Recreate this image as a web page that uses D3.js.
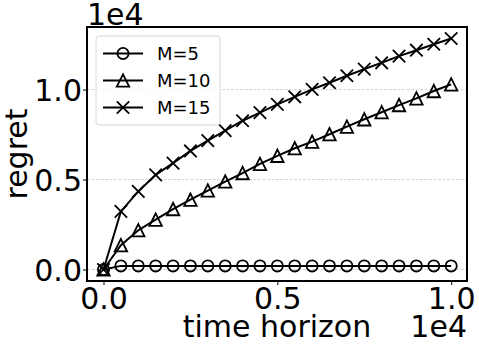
<!DOCTYPE html>
<html>
<head>
<meta charset="utf-8">
<script src="https://cdn.jsdelivr.net/npm/d3@7"></script>
<style>
  body { margin: 0; background: #fff; }
  svg { display: block; font-family: "DejaVu Sans", sans-serif; }
</style>
</head>
<body>
<div id="chart"></div>
<script>
// time horizon (x) values
var timeSteps = [0, 500, 1000, 1500, 2000, 2500, 3000, 3500, 4000, 4500, 5000,
                 5500, 6000, 6500, 7000, 7500, 8000, 8500, 9000, 9500, 10000];
// regret per setting
var regretM5  = [0, 200, 200, 200, 200, 200, 200, 200, 200, 200, 200,
                 200, 200, 200, 200, 200, 200, 200, 200, 200, 200];
var regretM10 = [0, 1350, 2180, 2770, 3360, 3880, 4390, 4890, 5360, 5870, 6320,
                 6740, 7110, 7520, 7940, 8350, 8740, 9140, 9510, 9920, 10290];
var regretM15 = [0, 3230, 4340, 5260, 5910, 6590, 7160, 7720, 8270, 8720, 9180,
                 9600, 10010, 10380, 10770, 11140, 11490, 11860, 12190, 12520, 12840];
var seriesNames = ["M=5", "M=10", "M=15"];
var seriesMarkers = ["circle", "triangle", "cross"];
var xTicks = [0, 5000, 10000];
var yTicks = [0, 5000, 10000];
var tickLabels = ["0.0", "0.5", "1.0"];

var w = 479, h = 349;
var pLeft = 87, pRight = 467, pTop = 27, pBottom = 281;

var svg = d3.select("#chart").append("svg")
  .attr("width", w)
  .attr("height", h);

var x = d3.scaleLinear().domain([-475, 10455]).range([pLeft, pRight]);
var y = d3.scaleLinear().domain([-640, 13480]).range([pBottom, pTop]);

// horizontal grid
svg.append("g").selectAll("line")
  .data(yTicks)
  .enter().append("line")
  .attr("x1", pLeft).attr("x2", pRight)
  .attr("y1", function(d) { return y(d); })
  .attr("y2", function(d) { return y(d); })
  .attr("stroke", "#c8c8c8")
  .attr("stroke-width", 0.8)
  .attr("stroke-dasharray", "3,1.5");

// axes
var xAxis = d3.axisBottom(x).tickValues(xTicks)
  .tickFormat(function(d, i) { return tickLabels[i]; })
  .tickSize(4).tickPadding(2);
var yAxis = d3.axisLeft(y).tickValues(yTicks)
  .tickFormat(function(d, i) { return tickLabels[i]; })
  .tickSize(4).tickPadding(1);

var gx = svg.append("g").attr("transform", "translate(0," + pBottom + ")").call(xAxis);
var gy = svg.append("g").attr("transform", "translate(" + pLeft + ",0)").call(yAxis);
[gx, gy].forEach(function(g) {
  g.select(".domain").remove();
  g.selectAll(".tick line").attr("stroke", "#000").attr("stroke-width", 1);
  g.selectAll(".tick text")
    .attr("font-family", "DejaVu Sans")
    .attr("font-size", 30)
    .attr("fill", "#000");
});
gx.selectAll(".tick text").attr("dy", "0.72em");
gy.selectAll(".tick text").attr("dy", "0.36em");

// series
var seriesData = [regretM5, regretM10, regretM15];
var line = d3.line()
  .x(function(d, i) { return x(timeSteps[i]); })
  .y(function(d) { return y(d); });

function drawMarker(g, type, cx, cy) {
  if (type === "circle") {
    g.append("circle").attr("cx", cx).attr("cy", cy).attr("r", 5.6)
      .attr("fill", "none").attr("stroke", "#000").attr("stroke-width", 1.8);
  } else if (type === "triangle") {
    var s = 6.2;
    g.append("path")
      .attr("d", "M" + cx + "," + (cy - s) + "L" + (cx - s) + "," + (cy + s) +
                 "L" + (cx + s) + "," + (cy + s) + "Z")
      .attr("fill", "none").attr("stroke", "#000").attr("stroke-width", 1.8)
      .attr("stroke-linejoin", "miter");
  } else {
    var c = 6.2;
    g.append("path")
      .attr("d", "M" + (cx - c) + "," + (cy - c) + "L" + (cx + c) + "," + (cy + c) +
                 "M" + (cx - c) + "," + (cy + c) + "L" + (cx + c) + "," + (cy - c))
      .attr("fill", "none").attr("stroke", "#000").attr("stroke-width", 1.8);
  }
}

var plot = svg.append("g");
seriesData.forEach(function(vals, k) {
  var g = plot.append("g");
  g.append("path")
    .datum(vals)
    .attr("d", line)
    .attr("fill", "none")
    .attr("stroke", "#000")
    .attr("stroke-width", 2);
  vals.forEach(function(v, i) {
    drawMarker(g, seriesMarkers[k], x(timeSteps[i]), y(v));
  });
});

// frame
svg.append("rect")
  .attr("x", pLeft).attr("y", pTop)
  .attr("width", pRight - pLeft).attr("height", pBottom - pTop)
  .attr("fill", "none").attr("stroke", "#000").attr("stroke-width", 2);

// legend
var lg = svg.append("g");
lg.append("rect")
  .attr("x", 96).attr("y", 36).attr("width", 124).attr("height", 89)
  .attr("rx", 3).attr("ry", 3)
  .attr("fill", "#fff").attr("fill-opacity", 0.8)
  .attr("stroke", "#d6d6d6").attr("stroke-width", 1);
seriesNames.forEach(function(name, k) {
  var ly = 53.5 + k * 27;
  lg.append("line")
    .attr("x1", 103).attr("x2", 143)
    .attr("y1", ly).attr("y2", ly)
    .attr("stroke", "#000").attr("stroke-width", 2);
  drawMarker(lg, seriesMarkers[k], 123, ly);
  lg.append("text")
    .attr("x", 157).attr("y", ly)
    .attr("dy", "0.36em")
    .attr("font-size", 18)
    .text(name);
});

// labels and offset texts
svg.append("text")
  .attr("x", (pLeft + pRight) / 2).attr("y", 337)
  .attr("text-anchor", "middle")
  .attr("font-size", 30)
  .text("time horizon");
svg.append("text")
  .attr("x", pRight).attr("y", 337)
  .attr("text-anchor", "end")
  .attr("font-size", 30)
  .text("1e4");
svg.append("text")
  .attr("x", pLeft).attr("y", 25)
  .attr("font-size", 30)
  .text("1e4");
svg.append("text")
  .attr("transform", "translate(27," + ((pTop + pBottom) / 2) + ") rotate(-90)")
  .attr("text-anchor", "middle")
  .attr("font-size", 30)
  .text("regret");
</script>
</body>
</html>
